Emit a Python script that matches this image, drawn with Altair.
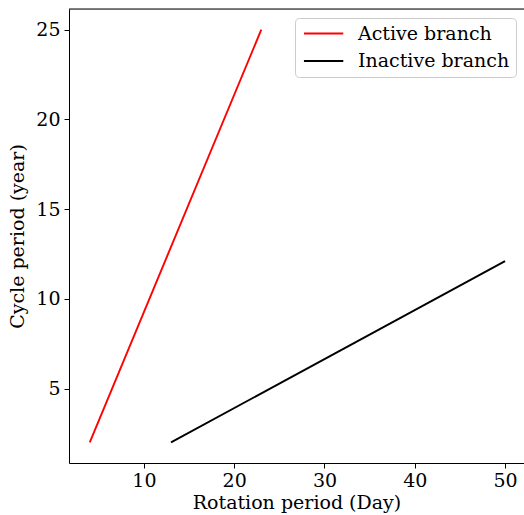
import altair as alt
import pandas as pd

series = ["Active branch", "Inactive branch"]
rot_active = [4, 23]
cyc_active = [2, 25]
rot_inactive = [13, 50]
cyc_inactive = [2, 12.1]
colors = ["#ff0000", "#000000"]
x_ticks = [10, 20, 30, 40, 50]
y_ticks = [5, 10, 15, 20, 25]

df = pd.DataFrame({
    "rot": rot_active + rot_inactive,
    "cyc": cyc_active + cyc_inactive,
    "branch": [series[0]] * len(rot_active) + [series[1]] * len(rot_inactive),
})

FONT = "DejaVu Serif"
FS = 19
W, H = 455, 454

axis_common = dict(
    grid=False, tickColor="black", domainColor="black", labelColor="black",
    titleColor="black", labelFont=FONT, titleFont=FONT, labelFontSize=FS,
    titleFontSize=FS, titleFontWeight="normal", tickSize=5, tickWidth=1,
    domainWidth=1,
)

lines = alt.Chart(df).mark_line(strokeWidth=1.9, clip=True).encode(
    x=alt.X("rot:Q",
            scale=alt.Scale(domain=[1.7, 52.1], nice=False, zero=False),
            axis=alt.Axis(values=x_ticks, title="Rotation period (Day)",
                          labelPadding=3, titlePadding=3, **axis_common)),
    y=alt.Y("cyc:Q",
            scale=alt.Scale(domain=[0.85, 26.15], nice=False, zero=False),
            axis=alt.Axis(values=y_ticks, title="Cycle period (year)",
                          labelPadding=4, titlePadding=8, **axis_common)),
    color=alt.Color("branch:N",
                    scale=alt.Scale(domain=series, range=colors),
                    legend=alt.Legend(
                        title=None, orient="none", legendX=226, legendY=9,
                        symbolType="M-1,0H5", symbolSize=172,
                        symbolStrokeWidth=1.9, labelFont=FONT,
                        labelFontSize=FS, labelColor="black",
                        labelOffset=38, rowPadding=7.5, padding=6,
                        fillColor="white", strokeColor="#cccccc",
                        cornerRadius=4)),
    detail="branch:N",
)

top_spine = alt.Chart(pd.DataFrame({"a": [0]})).mark_rule(
    color="black", strokeWidth=1
).encode(x=alt.value(0), x2=alt.value(W), y=alt.value(0))

chart = alt.layer(lines, top_spine).properties(
    width=W, height=H,
    autosize=alt.AutoSizeParams(type="none"),
    padding={"left": 69, "top": 9, "right": 0, "bottom": 52},
).configure_view(stroke=None).configure(background="white")

chart.save("out.html", embed_options={"renderer": "svg", "actions": False})
